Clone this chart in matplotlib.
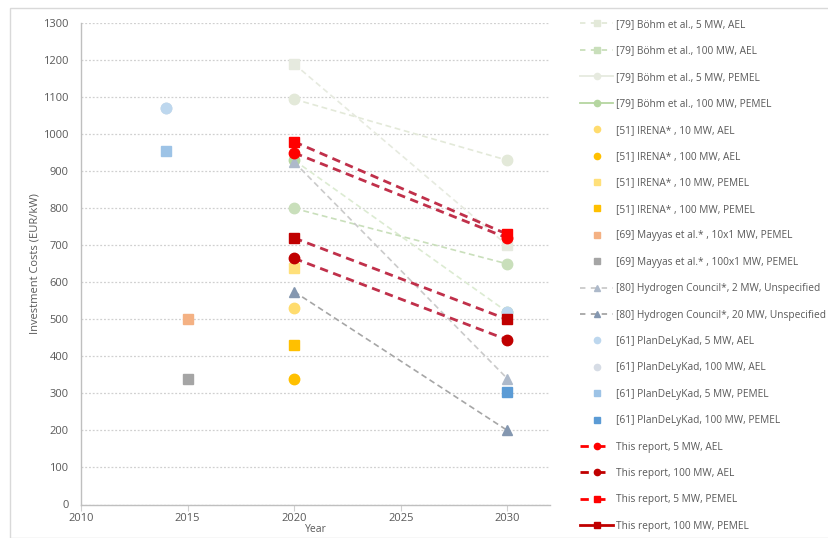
import matplotlib
matplotlib.use("Agg")
import matplotlib.pyplot as plt
from matplotlib.lines import Line2D
from matplotlib.patches import Rectangle

plt.rcParams['font.family'] = ['Open Sans', 'DejaVu Sans']

# ---------------- data ----------------
years_pair = [2020, 2030]
bohm_5_ael = [1095, 930]
bohm_100_ael = [800, 650]
bohm_5_pem = [1190, 700]
bohm_100_pem = [930, 520]

irena_year = [2020]
irena_10_ael = [530]
irena_100_ael = [340]
irena_10_pem = [640]
irena_100_pem = [430]

mayyas_year = [2015]
mayyas_10x1 = [500]
mayyas_100x1 = [340]

hc_2 = [925, 340]
hc_20 = [575, 200]

pdk_years = [2014, 2030]
pdk_5_ael = [1070, 520]
pdk_100_ael_year = [2014]
pdk_100_ael = [1070]
pdk_5_pem_year = [2014]
pdk_5_pem = [955]
pdk_100_pem_year = [2030]
pdk_100_pem = [305]

tr_5_ael = [950, 720]
tr_100_ael = [665, 445]
tr_5_pem = [980, 730]
tr_100_pem = [720, 500]

labels = [
    "[79] Böhm et al., 5 MW, AEL",
    "[79] Böhm et al., 100 MW, AEL",
    "[79] Böhm et al., 5 MW, PEMEL",
    "[79] Böhm et al., 100 MW, PEMEL",
    "[51] IRENA* , 10 MW, AEL",
    "[51] IRENA* , 100 MW, AEL",
    "[51] IRENA* , 10 MW, PEMEL",
    "[51] IRENA* , 100 MW, PEMEL",
    "[69] Mayyas et al.* , 10x1 MW, PEMEL",
    "[69] Mayyas et al.* , 100x1 MW, PEMEL",
    "[80] Hydrogen Council*, 2 MW, Unspecified",
    "[80] Hydrogen Council*, 20 MW, Unspecified",
    "[61] PlanDeLyKad, 5 MW, AEL",
    "[61] PlanDeLyKad, 100 MW, AEL",
    "[61] PlanDeLyKad, 5 MW, PEMEL",
    "[61] PlanDeLyKad, 100 MW, PEMEL",
    "This report, 5 MW, AEL",
    "This report, 100 MW, AEL",
    "This report, 5 MW, PEMEL",
    "This report, 100 MW, PEMEL",
]

# ---------------- styles ----------------
c_b5a, c_b100a, c_b5p, c_b100p = '#E3E9D9', '#C9DFBB', '#E6EADF', '#B5D6A0'
c_b100p_line = '#DCEBD2'
c_i10a, c_i100a, c_i10p, c_i100p = '#FFDC6E', '#FFC000', '#FFE07A', '#FFC000'
c_m10, c_m100 = '#F4B183', '#A5A5A5'
c_hc2, c_hc20 = '#ADB9CA', '#8497B0'
c_hcl2, c_hcl20 = '#CACACA', '#A6A6A6'
c_p5a, c_p100a, c_p5p, c_p100p = '#BDD7EE', '#D6DCE5', '#9DC3E6', '#5B9BD5'
c_red, c_dred, c_rline = '#FF0000', '#C00000', '#C0304A'

ms = 7.5
dash = (3.5, 2.2)

fig = plt.figure(figsize=(8.29, 5.38), dpi=100)
fig.patches.append(Rectangle((10 / 829, 0), 1 - 10 / 829 - 0.0005, 1 - 7 / 538 - 0.002,
                             transform=fig.transFigure, fill=False,
                             edgecolor='#D9D9D9', linewidth=1.0))

ax = fig.add_axes([81 / 829, 1 - 504.5 / 538, (550 - 81) / 829, (504.5 - 23.3) / 538])

def dline(y, v, col, mcol, marker, lw=1.2, z=2, d=dash):
    ax.plot(y, v, color=col, lw=lw, dashes=d, zorder=z)
    ax.plot(y, v, linestyle='none', marker=marker, ms=ms, color=mcol,
            markeredgecolor=mcol, zorder=z + 1)

# Böhm
dline(years_pair, bohm_100_pem, c_b100p_line, c_b100p, 'o')
dline(years_pair, bohm_5_pem, c_b5p, c_b5p, 's')
dline(years_pair, bohm_5_ael, c_b5a, c_b5a, 'o')
dline(years_pair, bohm_100_ael, c_b100a, c_b100a, 'o')

# Hydrogen Council
dline(years_pair, hc_2, c_hcl2, c_hc2, '^')
dline(years_pair, hc_20, c_hcl20, c_hc20, '^')

# IRENA
for v, c, m in [(irena_10_ael, c_i10a, 'o'), (irena_100_ael, c_i100a, 'o'),
                (irena_10_pem, c_i10p, 's'), (irena_100_pem, c_i100p, 's')]:
    ax.plot(irena_year, v, linestyle='none', marker=m, ms=ms, color=c, zorder=4)

# Mayyas
ax.plot(mayyas_year, mayyas_10x1, linestyle='none', marker='s', ms=ms, color=c_m10, zorder=4)
ax.plot(mayyas_year, mayyas_100x1, linestyle='none', marker='s', ms=ms, color=c_m100, zorder=4)

# PlanDeLyKad
ax.plot(pdk_100_ael_year, pdk_100_ael, linestyle='none', marker='o', ms=ms, color=c_p100a, zorder=4)
ax.plot(pdk_years, pdk_5_ael, linestyle='none', marker='o', ms=ms, color=c_p5a, zorder=5)
ax.plot(pdk_5_pem_year, pdk_5_pem, linestyle='none', marker='s', ms=ms, color=c_p5p, zorder=5)
ax.plot(pdk_100_pem_year, pdk_100_pem, linestyle='none', marker='s', ms=ms, color=c_p100p, zorder=5)

# This report
rdash = (3.0, 2.0)
dline(years_pair, tr_100_ael, c_rline, c_dred, 'o', lw=2.0, z=6, d=rdash)
dline(years_pair, tr_100_pem, c_rline, c_dred, 's', lw=2.0, z=6, d=rdash)
dline(years_pair, tr_5_ael, c_rline, c_red, 'o', lw=2.0, z=8, d=rdash)
dline(years_pair, tr_5_pem, c_rline, c_red, 's', lw=2.0, z=8, d=rdash)

# axes styling
ax.set_xlim(2010, 2032)
ax.set_ylim(0, 1300)
ax.set_xticks([2010, 2015, 2020, 2025, 2030])
ax.set_yticks(range(0, 1301, 100))
ax.grid(axis='y', color='#D0D0D0', linestyle=(0, (1.5, 1.5)), linewidth=0.9)
ax.set_axisbelow(True)
for s in ['top', 'right']:
    ax.spines[s].set_visible(False)
for s in ['left', 'bottom']:
    ax.spines[s].set_color('#BFBFBF')
    ax.spines[s].set_linewidth(1.0)
ax.tick_params(axis='y', length=0, labelsize=8, labelcolor='#595959', pad=9)
ax.tick_params(axis='x', length=4, color='#D0D0D0', labelsize=8, labelcolor='#595959', pad=2)
ax.set_ylabel("Investment Costs (EUR/kW)", fontsize=8, color='#595959', labelpad=2)
ax.set_xlabel("Year", fontsize=7.5, color='#595959', labelpad=0)

# legend handles
lms = 4.5
def H(col, marker, mcol=None, ls='none', lw=1.3, d=None):
    mcol = mcol or col
    kw = dict(color=col, marker=marker, markersize=lms, markerfacecolor=mcol,
              markeredgecolor=mcol, linewidth=lw, linestyle=ls)
    if d is not None:
        kw['dashes'] = d
    return Line2D([], [], **kw)

handles = [
    H(c_b5a, 's', ls='--', d=(3, 3)),
    H(c_b100a, 's', ls='--', d=(3, 3)),
    H(c_b5p, 'o', ls='-'),
    H(c_b100p, 'o', ls='-'),
    H(c_i10a, 'o'), H(c_i100a, 'o'), H(c_i10p, 's'), H(c_i100p, 's'),
    H(c_m10, 's'), H(c_m100, 's'),
    H(c_hcl2, '^', mcol=c_hc2, ls='--', d=(3, 3)),
    H(c_hcl20, '^', mcol=c_hc20, ls='--', d=(3, 3)),
    H(c_p5a, 'o'), H(c_p100a, 'o'), H(c_p5p, 's'), H(c_p100p, 's'),
    H(c_red, 'o', mcol=c_red, ls='--', lw=2, d=(3, 3)),
    H(c_dred, 'o', mcol=c_dred, ls='--', lw=2, d=(3, 3)),
    H(c_red, 's', mcol=c_red, ls='--', lw=2, d=(3, 3)),
    H(c_dred, 's', mcol=c_dred, ls='-', lw=2),
]

leg = fig.legend(handles, labels, loc='upper left',
                 bbox_to_anchor=(580 / 829, 1 - 19 / 538),
                 frameon=False, fontsize=7.3, handlelength=3.3, handletextpad=0.25,
                 labelspacing=1.52, borderaxespad=0, borderpad=0)
for t in leg.get_texts():
    t.set_color('#595959')

fig.savefig("out.png", dpi=100)
